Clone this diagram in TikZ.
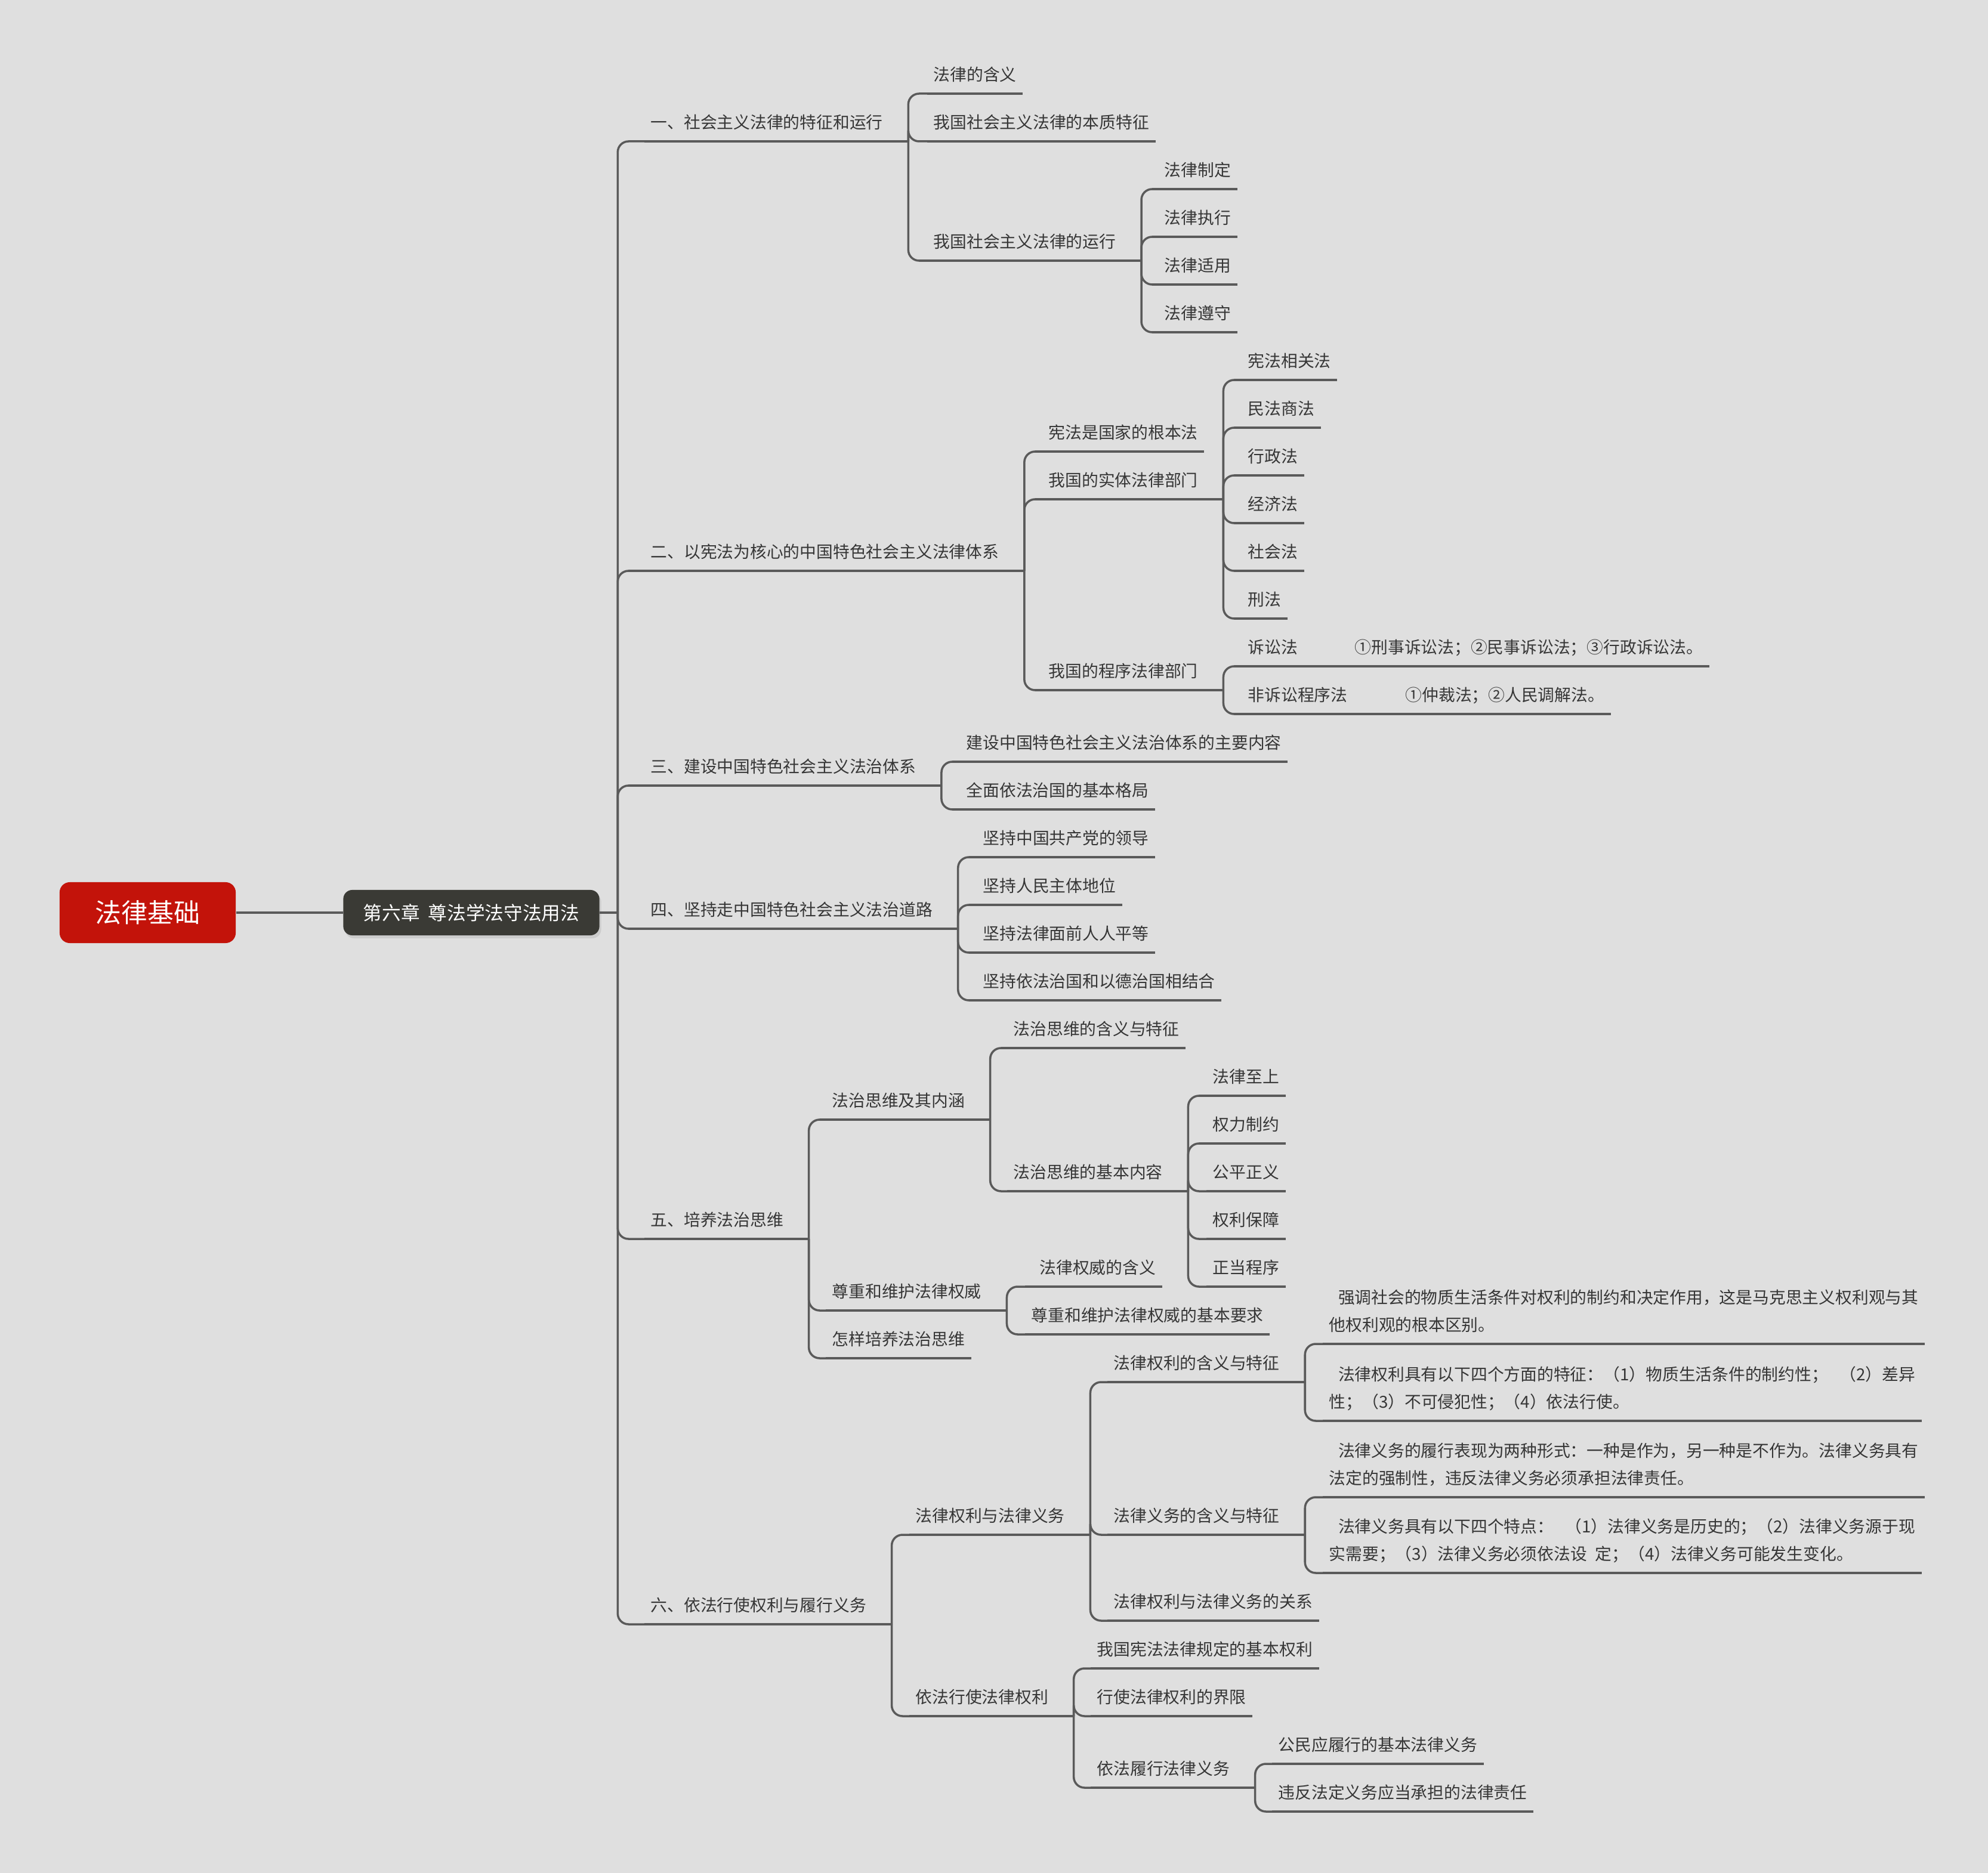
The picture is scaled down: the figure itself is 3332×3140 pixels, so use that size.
\documentclass[tikz,border=0pt]{standalone}
\usepackage{fontspec}
\setmainfont{Noto Sans CJK SC}
\usepackage{tikz}
\usetikzlibrary{calc,shadows}
\definecolor{bg}{HTML}{DFDFDF}
\definecolor{ink}{HTML}{363636}
\definecolor{wire}{HTML}{5A5A5A}
\definecolor{rootred}{HTML}{C3130A}
\definecolor{chapgray}{HTML}{3A3A35}
\newcommand{\mapfont}{\fontsize{7.9pt}{13.05pt}\selectfont}
\tikzset{
  link/.style={draw=wire, line width=1pt, rounded corners=0.18cm},
  item/.style={anchor=south west, inner xsep=0.1cm, inner ysep=0.17cm, text height=0.237cm, text depth=0.042cm, text=ink, font=\mapfont},
  para/.style={anchor=south west, inner xsep=0.1cm, inner ysep=0.17cm, text depth=0.042cm, align=left, text=ink, font=\mapfont},
  rootbox/.style={fill=rootred, text=white, rounded corners=0.17cm, minimum width=2.95cm, minimum height=1.02cm, font=\fontsize{12.5pt}{15pt}\selectfont},
  chapbox/.style={fill=chapgray, text=white, rounded corners=0.15cm, minimum width=4.29cm, minimum height=0.76cm, font=\fontsize{9pt}{11pt}\selectfont, drop shadow={opacity=0.2, shadow xshift=0.03cm, shadow yshift=-0.05cm}},
}

\begin{document}
\begin{tikzpicture}[x=0.01cm, y=-0.01cm]
  \useasboundingbox[fill=bg] (0,0) rectangle (3332,3140);
  % centre
  \node[rootbox] (law) at (247.5,1530) {法律基础};
  \node[chapbox] (ch6) at (790,1530) {第六章\hspace{0.45em}尊法学法守法用法};
  % sections
  \node[item] (s1) at (1080,237) {一、社会主义法律的特征和运行};
  \node[item] (s2) at (1080,957) {二、以宪法为核心的中国特色社会主义法律体系};
  \node[item] (s3) at (1080,1317) {三、建设中国特色社会主义法治体系};
  \node[item] (s4) at (1080,1557) {四、坚持走中国特色社会主义法治道路};
  \node[item] (s5) at (1080,2077) {五、培养法治思维};
  \node[item] (s6) at (1080,2723) {六、依法行使权利与履行义务};
  % one
  \node[item] (s1a) at (1554,157) {法律的含义};
  \node[item] (s1b) at (1554,237) {我国社会主义法律的本质特征};
  \node[item] (s1c) at (1554,437) {我国社会主义法律的运行};
  \node[item] (s1c1) at (1941,317) {法律制定};
  \node[item] (s1c2) at (1941,397) {法律执行};
  \node[item] (s1c3) at (1941,477) {法律适用};
  \node[item] (s1c4) at (1941,557) {法律遵守};
  % two
  \node[item] (s2a) at (1747,757) {宪法是国家的根本法};
  \node[item] (s2b) at (1747,837) {我国的实体法律部门};
  \node[item] (s2c) at (1747,1157) {我国的程序法律部门};
  \node[item] (s2b1) at (2081,637) {宪法相关法};
  \node[item] (s2b2) at (2081,717) {民法商法};
  \node[item] (s2b3) at (2081,797) {行政法};
  \node[item] (s2b4) at (2081,877) {经济法};
  \node[item] (s2b5) at (2081,957) {社会法};
  \node[item] (s2b6) at (2081,1037) {刑法};
  \node[item] (s2c1) at (2081,1117) {诉讼法};
  \node[item] (s2c2) at (2081,1197) {非诉讼程序法};
  \node[item] (s2c1x) at (2260,1117) {①刑事诉讼法；②民事诉讼法；③行政诉讼法。};
  \node[item] (s2c2x) at (2345,1197) {①仲裁法；②人民调解法。};
  % three
  \node[item] (s3a) at (1609,1277) {建设中国特色社会主义法治体系的主要内容};
  \node[item] (s3b) at (1609,1357) {全面依法治国的基本格局};
  % four
  \node[item] (s4a) at (1637,1437) {坚持中国共产党的领导};
  \node[item] (s4b) at (1637,1517) {坚持人民主体地位};
  \node[item] (s4c) at (1637,1597) {坚持法律面前人人平等};
  \node[item] (s4d) at (1637,1677) {坚持依法治国和以德治国相结合};
  % five
  \node[item] (s5a) at (1384,1877) {法治思维及其内涵};
  \node[item] (s5a1) at (1688,1757) {法治思维的含义与特征};
  \node[item] (s5a2) at (1688,1997) {法治思维的基本内容};
  \node[item] (s5a2x1) at (2022,1837) {法律至上};
  \node[item] (s5a2x2) at (2022,1917) {权力制约};
  \node[item] (s5a2x3) at (2022,1997) {公平正义};
  \node[item] (s5a2x4) at (2022,2077) {权利保障};
  \node[item] (s5a2x5) at (2022,2157) {正当程序};
  \node[item] (s5b) at (1384,2197) {尊重和维护法律权威};
  \node[item] (s5b1) at (1718,2157) {\hspace*{0.5em}法律权威的含义};
  \node[item] (s5b2) at (1718,2237) {尊重和维护法律权威的基本要求};
  \node[item] (s5c) at (1384,2277) {怎样培养法治思维};
  % six
  \node[item] (s6a) at (1524,2573) {法律权利与法律义务};
  \node[item] (s6a1) at (1856,2317) {法律权利的含义与特征};
  \node[item] (s6a2) at (1856,2573) {法律义务的含义与特征};
  \node[item] (s6a3) at (1856,2717) {法律权利与法律义务的关系};
  \node[para] (p1) at (2217,2253) {\hspace*{0.55em}强调社会的物质生活条件对权利的制约和决定作用，这是马克思主义权利观与其\\他权利观的根本区别。};
  \node[para] (p2) at (2217,2382) {\hspace*{0.55em}法律权利具有以下四个方面的特征：（1）物质生活条件的制约性；\hspace{0.7em}（2）差异\\性；（3）不可侵犯性；（4）依法行使。};
  \node[para] (p3) at (2217,2510) {\hspace*{0.55em}法律义务的履行表现为两种形式：一种是作为，另一种是不作为。法律义务具有\\法定的强制性，违反法律义务必须承担法律责任。};
  \node[para] (p4) at (2217,2637) {\hspace*{0.55em}法律义务具有以下四个特点：\hspace{0.7em}（1）法律义务是历史的；（2）法律义务源于现\\实需要；（3）法律义务必须依法设\hspace{0.5em}定；（4）法律义务可能发生变化。};
  \node[item] (s6b) at (1524,2877) {依法行使法律权利};
  \node[item] (s6b1) at (1828,2797) {我国宪法法律规定的基本权利};
  \node[item] (s6b2) at (1828,2877) {行使法律权利的界限};
  \node[item] (s6b3) at (1828,2997) {依法履行法律义务};
  \node[item] (s6b3x1) at (2132,2957) {公民应履行的基本法律义务};
  \node[item] (s6b3x2) at (2132,3037) {违反法定义务应当承担的法律责任};
  % connectors
  \draw[link] (law) -- (ch6);
  \coordinate (tc) at ($(ch6.east)+(30,0)$);
  \draw[link] (ch6.east) -- (tc);
  \foreach \s in {s1,s2,s3,s4,s5,s6}
    \draw[link] (tc) |- (\s.south west);
  \foreach \p/\kids in {s1/{s1a,s1b,s1c}, s1c/{s1c1,s1c2,s1c3,s1c4},
      s2/{s2a,s2b,s2c}, s2b/{s2b1,s2b2,s2b3,s2b4,s2b5,s2b6}, s2c/{s2c1,s2c2},
      s3/{s3a,s3b}, s4/{s4a,s4b,s4c,s4d},
      s5/{s5a,s5b,s5c}, s5a/{s5a1,s5a2}, s5a2/{s5a2x1,s5a2x2,s5a2x3,s5a2x4,s5a2x5},
      s5b/{s5b1,s5b2}, s6/{s6a,s6b}, s6a/{s6a1,s6a2,s6a3}, s6a1/{p1,p2},
      s6a2/{p3,p4}, s6b/{s6b1,s6b2,s6b3}, s6b3/{s6b3x1,s6b3x2}} {
    \draw[link] (\p.south east) -- ++(32,0) coordinate (t);
    \foreach \k in \kids
      \draw[link] (t) |- (\k.south west);
  }
  % single children on the same line
  \draw[link] (s2c1.south east) -- (s2c1x.south west);
  \draw[link] (s2c2.south east) -- (s2c2x.south west);
  % underlines
  \foreach \n in {s1,s2,s3,s4,s5,s6,s1a,s1b,s1c,s1c1,s1c2,s1c3,s1c4,
      s2a,s2b,s2c,s2b1,s2b2,s2b3,s2b4,s2b5,s2b6,s2c1,s2c2,s2c1x,s2c2x,
      s3a,s3b,s4a,s4b,s4c,s4d,s5a,s5a1,s5a2,s5a2x1,s5a2x2,s5a2x3,s5a2x4,s5a2x5,
      s5b,s5b1,s5b2,s5c,s6a,s6a1,s6a2,s6a3,p1,p2,p3,p4,s6b,s6b1,s6b2,s6b3,s6b3x1,s6b3x2}
    \draw[link] (\n.south west) -- (\n.south east);
\end{tikzpicture}
\end{document}
